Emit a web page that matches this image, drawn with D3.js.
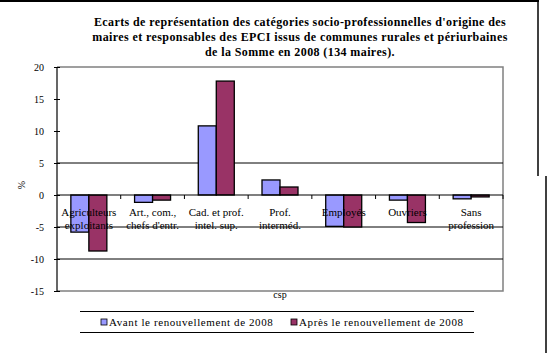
<!DOCTYPE html>
<html><head><meta charset="utf-8">
<script src="https://cdn.jsdelivr.net/npm/d3@7"></script>
<style>body{margin:0;background:#fff}svg{display:block}text{font-family:"Liberation Serif","Times New Roman",serif;fill:#000}</style>
</head><body><svg id="c" width="549" height="353"></svg>
<script>
const categories = [["Agriculteurs","exploitants"],["Art., com.,","chefs d'entr."],["Cad. et prof.","intel. sup."],["Prof.","interméd."],["Employés"],["Ouvriers"],["Sans","profession"]];
const seriesNames = ["Avant le renouvellement de 2008","Après le renouvellement de 2008"];
const avant = [-5.8, -1.15, 10.8, 2.35, -4.9, -0.8, -0.6];
const apres = [-8.75, -0.8, 17.8, 1.25, -5.0, -4.3, -0.3];
const yTicks = [20, 15, 10, 5, 0, -5, -10, -15];
const gridTicks = [5, -5, -10];
const titleLines = ["Ecarts de représentation des catégories socio-professionnelles d'origine des","maires et responsables des EPCI issus de communes rurales et périurbaines","de la Somme en 2008 (134 maires)."];
const colors = ["#9999FF", "#993366"];

const svg = d3.select("#c");
const L = 57, R = 503, T = 67, B = 291;
const idx = categories.map((d, i) => i);
const x = d3.scaleBand().domain(idx).range([L, R]).paddingInner(0.435).paddingOuter(0.2175);
const xs = d3.scaleBand().domain([0, 1]).range([0, x.bandwidth()]);
const y = d3.scaleLinear().domain([-15, 20]).range([B, T]);

// frame
svg.append("line").attr("x1", 0).attr("x2", 539).attr("y1", 1).attr("y2", 1).attr("stroke", "#000").attr("stroke-width", 2);
svg.append("line").attr("x1", 538).attr("x2", 538).attr("y1", 0).attr("y2", 176).attr("stroke", "#000").attr("stroke-width", 1.5);
svg.append("line").attr("x1", 546).attr("x2", 546).attr("y1", 176).attr("y2", 353).attr("stroke", "#000").attr("stroke-width", 1.5);

// title
svg.append("g").selectAll("text").data(titleLines).join("text")
  .attr("x", 300).attr("y", (d, i) => 26 + i * 15).attr("text-anchor", "middle")
  .attr("font-size", 12).attr("letter-spacing", 0.4).attr("font-weight", "bold").text(d => d);

// plot border (gray)
svg.append("path").attr("d", `M${L},${y(20)}H${R}V${y(-15)}H${L}`).attr("fill", "none").attr("stroke", "#808080").attr("stroke-width", 1.5);

// gridlines
svg.append("g").selectAll("line").data(gridTicks).join("line")
  .attr("x1", L).attr("x2", R).attr("y1", d => y(d)).attr("y2", d => y(d)).attr("stroke", "#000").attr("stroke-width", 1);

// bars
const series = [avant, apres];
series.forEach((vals, s) => {
  svg.append("g").selectAll("rect").data(vals).join("rect")
    .attr("x", (d, i) => x(i) + xs(s)).attr("width", xs.bandwidth())
    .attr("y", d => y(Math.max(0, d))).attr("height", d => Math.abs(y(d) - y(0)))
    .attr("fill", colors[s]).attr("stroke", "#000").attr("stroke-width", 1.3);
});

// zero axis with category ticks
svg.append("line").attr("x1", L).attr("x2", R).attr("y1", y(0)).attr("y2", y(0)).attr("stroke", "#000").attr("stroke-width", 1.2);
const bounds = d3.range(1, categories.length + 1).map(i => L + x.step() * i);
svg.append("g").selectAll("line").data(bounds).join("line")
  .attr("x1", d => d).attr("x2", d => d).attr("y1", y(0)).attr("y2", y(0) + 4).attr("stroke", "#000");

// y axis
const yAxis = d3.axisLeft(y).tickValues(yTicks).tickSize(3).tickFormat(d => String(d));
const ga = svg.append("g").attr("transform", `translate(${L},0)`).call(yAxis);
ga.select(".domain").attr("stroke", "#000").attr("stroke-width", 1.2).attr("d", `M0,${T}V${B}`);
ga.selectAll(".tick line").attr("x1", 3).attr("x2", -3).attr("stroke", "#000");
ga.selectAll(".tick text").attr("x", -13).attr("font-size", 10).attr("font-family", "Liberation Serif");

// category labels
const cl = svg.append("g").selectAll("text").data(categories).join("text")
  .attr("x", (d, i) => x(i) + x.bandwidth() / 2).attr("y", 216).attr("text-anchor", "middle").attr("font-size", 11);
cl.selectAll("tspan").data(d => d).join("tspan")
  .attr("x", function () { return d3.select(this.parentNode).attr("x"); })
  .attr("dy", (d, i) => i === 0 ? 0 : 12.5).text(d => d);

// axis titles
svg.append("text").attr("transform", "translate(25,185) rotate(-90)").attr("text-anchor", "middle").attr("font-size", 10).text("%");
svg.append("text").attr("x", (L + R) / 2).attr("y", 298).attr("text-anchor", "middle").attr("font-size", 10).text("csp");

// legend
svg.append("line").attr("x1", 80).attr("x2", 474).attr("y1", 311.5).attr("y2", 311.5).attr("stroke", "#000").attr("stroke-width", 1.2);
svg.append("line").attr("x1", 80).attr("x2", 474).attr("y1", 332.5).attr("y2", 332.5).attr("stroke", "#000").attr("stroke-width", 1.2);
const lx = [101, 291];
const lg = svg.append("g").selectAll("g").data(seriesNames).join("g").attr("transform", (d, i) => `translate(${lx[i]},319)`);
lg.append("rect").attr("width", 6).attr("height", 6).attr("fill", (d, i) => colors[i]).attr("stroke", "#000").attr("stroke-width", 0.8);
lg.append("text").attr("x", 8).attr("y", 6.5).attr("font-size", 11).attr("letter-spacing", 0.6).text(d => d);
</script></body></html>
